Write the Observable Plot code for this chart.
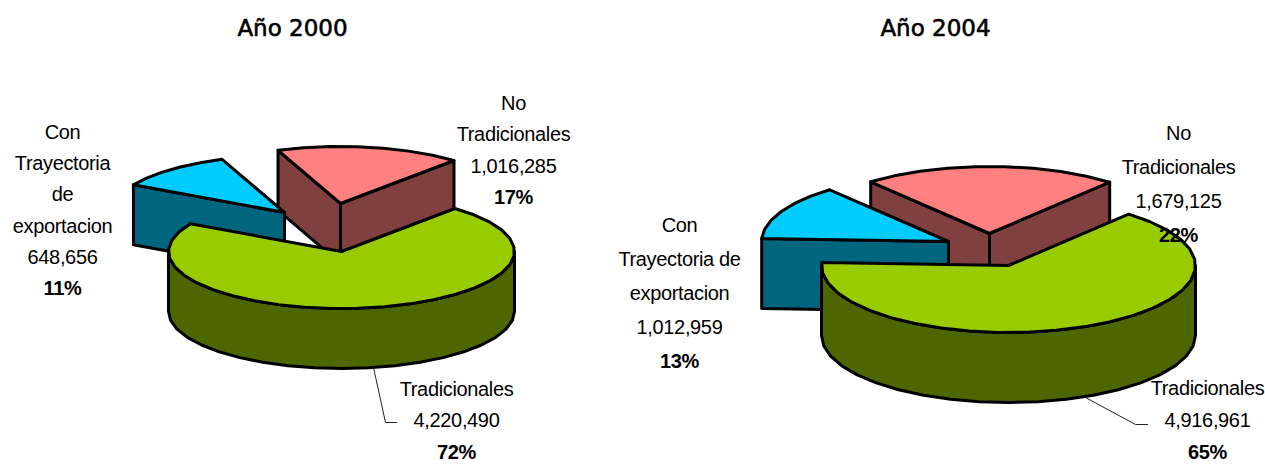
<!DOCTYPE html>
<html>
<head>
<meta charset="utf-8">
<style>html,body{margin:0;padding:0;background:#fff}svg{display:block}.lbl text{letter-spacing:-0.35px}</style>
<script src="https://cdn.jsdelivr.net/npm/d3@7"></script>
<script src="https://cdn.jsdelivr.net/npm/@observablehq/plot@0.6"></script>
</head>
<body>
<div id="chart"></div>
<script>
// ---- data ----
const categories = ["Tradicionales", "Con Trayectoria de exportacion", "No Tradicionales"];
const values2000 = [4220490, 648656, 1016285];
const values2004 = [4916961, 1012959, 1679125];
const titles = ["Año 2000", "Año 2004"];

const topColors = ["#99CC00", "#00CCFF", "#FF8080"];
const wallColors = ["#4D6600", "#006680", "#804040"];

const labelLines2000 = [
  ["Tradicionales", "4,220,490", "72%"],
  ["Con", "Trayectoria", "de", "exportacion", "648,656", "11%"],
  ["No", "Tradicionales", "1,016,285", "17%"]
];
const labelLines2004 = [
  ["Tradicionales", "4,916,961", "65%"],
  ["Con", "Trayectoria de", "exportacion", "1,012,959", "13%"],
  ["No", "Tradicionales", "1,679,125", "22%"]
];

// ---- layout of the two 3-D pies (pixel-like plot units) ----
const layouts = [
  {
    values: values2000, lines: labelLines2000, title: titles[0], titleX: 292,
    start: 41, rx: 173, ry: 57, depth: 60,
    centers: [[341, 251], [284, 212], [340, 203]],
    labelX: [456, 62, 513], labelY: [389, 132, 103], labelStep: [31.5, 31.2, 31.3],
    leader: [[373, 367], [385, 422], [396, 422]]
  },
  {
    values: values2004, lines: labelLines2004, title: titles[1], titleX: 935,
    start: 40, rx: 187, ry: 67, depth: 70,
    centers: [[1008, 265], [948, 241], [989, 233]],
    labelX: [1207, 679, 1178], labelY: [388, 225, 133], labelStep: [32, 34, 34],
    leader: [[1085, 397], [1135, 424], [1147, 424]]
  }
];

const rad = d => d * Math.PI / 180;
const polygons = [];   // {pts, fill} painted in order
const textRows = [];
const leaders = [];

for (const L of layouts) {
  const total = d3.sum(L.values);
  const pt = (c, a, dz = 0) => ({
    x: c[0] + L.rx * Math.sin(rad(a)),
    y: c[1] - L.ry * Math.cos(rad(a)) + dz
  });
  const rim = (c, a0, a1, dz = 0) => {
    const n = Math.max(2, Math.ceil(Math.abs(a1 - a0) / 9));
    return d3.range(n + 1).map(i => pt(c, a0 + (a1 - a0) * i / n, dz));
  };
  // slice angles, clockwise from the top
  let a = L.start;
  const slices = L.values.map((v, i) => {
    const s = {i, a0: a, a1: a + v / total * 360, c: L.centers[i]};
    a = s.a1;
    return s;
  });
  // paint order: back slices first, the big one last
  for (const s of [slices[2], slices[1], slices[0]]) {
    const {c, a0, a1, i} = s;
    const apex = {x: c[0], y: c[1]};
    const apexLow = {x: c[0], y: c[1] + L.depth};
    if (Math.cos(rad(a0 - 90)) < 0) {
      polygons.push({pts: [apex, pt(c, a0), pt(c, a0, L.depth), apexLow], fill: wallColors[i]});
    }
    if (Math.cos(rad(a1 + 90)) < 0) {
      polygons.push({pts: [apex, pt(c, a1), pt(c, a1, L.depth), apexLow], fill: wallColors[i]});
    }
    const w0 = Math.max(a0, 90), w1 = Math.min(a1, 270);
    if (w1 > w0) {
      polygons.push({pts: [...rim(c, w0, w1), ...rim(c, w1, w0, L.depth)], fill: wallColors[i]});
    }
    polygons.push({pts: [apex, ...rim(c, a0, a1)], fill: topColors[i]});
  }
  L.lines.forEach((lines, i) => {
    lines.forEach((text, j) => {
      textRows.push({
        x: L.labelX[i], y: L.labelY[i] + j * L.labelStep[i], text,
        bold: j === lines.length - 1
      });
    });
  });
  leaders.push(L.leader.map(([x, y]) => ({x, y})));
}

const marks = [
  ...polygons.map(p => Plot.line(p.pts, {
    x: "x", y: "y", curve: "linear-closed",
    fill: p.fill, stroke: "#000", strokeWidth: 3, strokeLinejoin: "round"
  })),
  ...leaders.map(l => Plot.line(l, {x: "x", y: "y", stroke: "#222", strokeWidth: 1})),
  Plot.text(textRows.filter(d => !d.bold), {
    x: "x", y: "y", text: "text", fontSize: 20, fill: "#000", className: "lbl",
    fontFamily: "Liberation Sans", textAnchor: "middle", lineAnchor: "middle"
  }),
  Plot.text(textRows.filter(d => d.bold), {
    x: "x", y: "y", text: "text", fontSize: 20, fontWeight: "bold", fill: "#000", className: "lbl",
    fontFamily: "Liberation Sans", textAnchor: "middle", lineAnchor: "middle"
  }),
  Plot.text(layouts, {
    x: "titleX", y: () => 28, text: "title", fontSize: 23, fill: "#000",
    stroke: "#000", strokeWidth: 0.6,
    fontFamily: "DejaVu Sans", textAnchor: "middle", lineAnchor: "middle"
  })
];

const chart = Plot.plot({
  width: 1265, height: 464, margin: 0,
  x: {domain: [0, 1265], range: [0, 1265], axis: null},
  y: {domain: [0, 464], range: [0, 464], axis: null},
  marks
});
document.getElementById("chart").appendChild(chart);
</script>
</body>
</html>
